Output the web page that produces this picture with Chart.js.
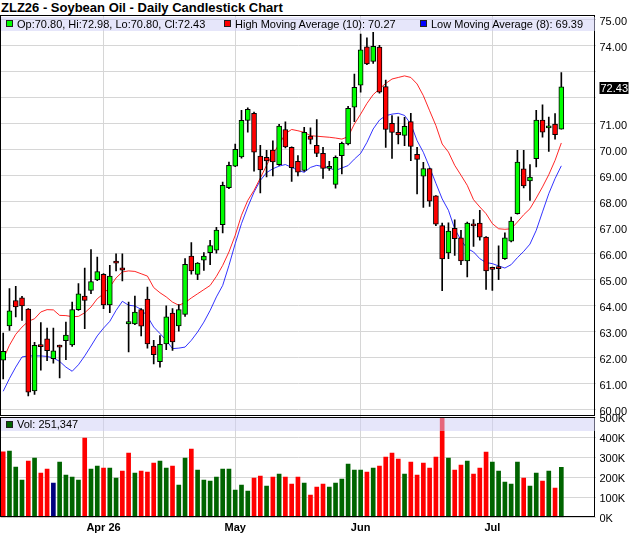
<!DOCTYPE html>
<html><head><meta charset="utf-8">
<script src="https://cdn.jsdelivr.net/npm/chart.js@4.4.1/dist/chart.umd.min.js"></script>
<style>
html,body{margin:0;padding:0;background:#fff;width:640px;height:536px;overflow:hidden;font-family:"Liberation Sans",Arial,sans-serif;}
#wrap{position:relative;width:640px;height:536px;}
#title{position:absolute;left:1px;top:0px;font-weight:bold;font-size:13px;line-height:15px;color:#000;white-space:nowrap;}
canvas{position:absolute;left:0;}
#c1{top:0;}
#c2{top:400px;}
.band{position:absolute;left:1px;width:594px;background:rgba(205,205,245,0.5);font-size:11px;line-height:14px;color:#000;white-space:nowrap;}
.sq{position:absolute;top:3px;width:5px;height:5px;border:1px solid #222;}
.lt{position:absolute;top:0;}
</style></head>
<body><div id="wrap">
<div id="title">ZLZ26 - Soybean Oil - Daily Candlestick Chart</div>
<canvas id="c1" width="640" height="417"></canvas>
<canvas id="c2" width="640" height="136"></canvas>
<div class="band" id="legMain" style="top:17px;height:14px;">
  <div class="sq" style="left:5px;background:#00ff00;"></div><span class="lt" id="tOHLC" style="left:16px;"></span>
  <div class="sq" style="left:223px;background:#ff0000;"></div><span class="lt" id="tHi" style="left:234px;"></span>
  <div class="sq" style="left:419px;background:#0000ff;"></div><span class="lt" id="tLo" style="left:430px;"></span>
</div>
<div class="band" id="legVol" style="top:418px;height:13px;line-height:13px;">
  <div class="sq" style="left:5px;top:3px;background:#006400;"></div><span class="lt" id="tVol" style="left:16px;"></span>
</div>
</div>
<script>
const dates = [
 "2026-03-10","2026-03-11","2026-03-12","2026-03-13","2026-03-16","2026-03-17","2026-03-18","2026-03-19","2026-03-20",
 "2026-03-23","2026-03-24","2026-03-25","2026-03-26","2026-03-27","2026-03-30","2026-03-31",
 "2026-04-01","2026-04-02","2026-04-06","2026-04-07","2026-04-08","2026-04-09","2026-04-10",
 "2026-04-13","2026-04-14","2026-04-15","2026-04-16","2026-04-17","2026-04-20","2026-04-21","2026-04-22","2026-04-23","2026-04-24",
 "2026-04-27","2026-04-28","2026-04-29","2026-04-30",
 "2026-05-01","2026-05-04","2026-05-05","2026-05-06","2026-05-07","2026-05-08","2026-05-11","2026-05-12","2026-05-13","2026-05-14","2026-05-15",
 "2026-05-18","2026-05-19","2026-05-20","2026-05-21","2026-05-22","2026-05-26","2026-05-27","2026-05-28","2026-05-29",
 "2026-06-01","2026-06-02","2026-06-03","2026-06-04","2026-06-05","2026-06-08","2026-06-09","2026-06-10","2026-06-11","2026-06-12",
 "2026-06-15","2026-06-16","2026-06-17","2026-06-18","2026-06-22","2026-06-23","2026-06-24","2026-06-25","2026-06-26","2026-06-29","2026-06-30",
 "2026-07-01","2026-07-02","2026-07-06","2026-07-07","2026-07-08","2026-07-09","2026-07-10","2026-07-13","2026-07-14","2026-07-15","2026-07-16","2026-07-17"
];
const opens = [61.92,63.23,64.21,64.31,63.88,60.73,62.50,62.74,61.97,62.43,62.67,62.50,63.86,64.38,64.60,65.00,65.22,64.04,65.66,65.47,
 63.31,63.31,63.86,64.27,62.46,61.86,62.54,63.73,63.23,63.68,65.92,65.21,65.76,66.05,66.15,67.13,68.55,69.38,69.73,71.14,
 71.41,69.77,69.72,70.00,69.44,70.79,70.10,69.56,69.21,70.54,70.18,69.87,69.29,68.68,69.78,70.23,71.65,72.49,73.97,73.41,
 73.96,72.44,71.03,70.68,70.56,71.09,69.83,68.99,69.29,68.24,67.09,66.04,66.99,66.62,65.73,67.15,67.19,66.65,65.47,65.50,
 65.82,66.49,67.55,69.28,68.81,69.67,71.15,70.85,71.00,70.80];
const highs = [62.96,64.67,64.76,64.37,63.90,62.60,63.36,63.15,63.15,62.50,63.38,64.15,64.86,65.46,66.17,65.88,65.25,65.56,66.01,66.01,
 64.15,64.38,63.90,64.73,62.68,62.86,64.01,63.90,64.05,65.82,66.44,65.67,66.05,66.53,67.03,68.77,69.54,70.23,71.53,71.62,
 71.46,70.18,69.99,70.35,70.99,71.08,70.12,69.79,70.87,70.85,71.17,70.10,69.56,69.78,70.30,71.68,72.92,74.46,74.31,74.53,
 74.03,72.69,71.32,71.28,71.26,71.41,70.10,69.53,69.30,68.25,67.19,67.20,67.31,66.91,67.23,67.32,67.68,66.67,65.50,66.31,
 66.81,67.42,69.99,69.99,69.44,71.53,71.74,71.27,71.40,72.98];
const lows = [61.20,63.06,63.58,63.45,60.54,60.60,61.53,61.90,61.80,61.23,61.94,62.45,63.83,63.13,64.47,64.97,63.90,63.74,65.35,64.96,
 62.23,63.28,62.85,62.38,61.77,61.65,62.32,62.29,63.03,63.60,65.22,65.01,65.37,65.59,66.03,66.81,68.51,69.36,69.69,70.69,
 69.19,68.35,68.96,69.00,69.41,70.08,68.79,69.00,69.18,70.23,69.74,68.91,69.21,68.53,69.08,70.20,71.09,72.22,73.28,73.33,
 72.19,70.10,69.68,70.23,70.17,69.59,68.31,67.79,67.83,67.09,64.59,65.82,65.95,65.59,65.12,66.29,66.53,64.64,64.60,65.01,
 65.79,66.46,67.53,68.54,68.06,69.35,70.49,69.95,70.42,70.80];
const closes = [62.26,63.81,63.96,64.00,60.69,62.49,62.44,62.28,62.28,62.42,62.88,63.86,64.47,64.21,64.94,65.32,64.04,65.15,65.65,65.38,
 63.40,63.77,63.22,62.54,62.13,62.53,63.58,62.62,63.86,65.60,65.35,65.65,65.92,66.32,66.92,68.64,69.41,70.03,71.14,71.56,
 69.92,69.23,69.58,69.54,70.92,70.12,69.32,69.15,70.68,70.41,69.87,69.29,69.37,69.72,70.26,71.60,72.41,73.85,73.31,73.99,
 72.22,70.79,70.68,70.58,70.91,70.14,69.64,69.29,68.03,67.15,65.81,66.88,66.59,65.73,67.19,67.08,66.65,65.35,65.41,65.44,
 66.62,67.27,69.54,68.62,68.96,71.15,70.69,70.92,70.59,72.43];
const priorClose = 62.60;
const hiMA = [61.95,62.49,62.91,63.19,63.41,63.51,63.77,63.86,63.85,63.64,63.63,63.59,63.60,63.74,63.96,64.28,64.47,64.73,65.08,65.31,
 65.35,65.33,65.24,65.15,64.71,64.51,64.35,64.15,64.03,64.13,64.31,64.47,64.63,64.79,65.14,65.56,66.08,66.72,67.49,68.06,
 68.45,68.92,69.41,69.86,70.21,70.63,70.79,70.74,70.68,70.55,70.53,70.51,70.49,70.46,70.42,70.51,71.00,71.38,71.79,72.13,
 72.35,72.56,72.73,72.79,72.85,72.79,72.54,72.09,71.51,70.94,70.23,69.92,69.41,69.03,68.64,68.09,67.81,67.55,67.17,66.97,
 66.95,66.97,67.23,67.51,67.74,68.15,68.58,69.05,69.60,70.27];
const loMA = [60.72,61.21,61.65,62.04,62.08,62.08,62.08,62.06,62.00,61.87,61.65,61.49,61.74,62.08,62.46,62.85,63.15,63.41,63.83,64.18,
 64.03,64.00,63.87,63.60,63.19,62.94,62.68,62.36,62.38,62.42,62.68,63.00,63.38,63.83,64.35,64.79,65.56,66.40,67.17,67.81,
 68.38,68.83,69.13,69.28,69.38,69.44,69.33,69.22,69.14,69.33,69.41,69.36,69.31,69.21,69.31,69.40,69.65,69.87,70.29,70.81,
 71.15,71.32,71.38,71.41,71.33,71.00,70.36,69.91,69.33,68.72,68.12,67.68,66.97,66.53,66.21,66.08,65.82,65.67,65.63,65.54,
 65.46,65.59,65.86,66.10,66.38,66.91,67.62,68.32,68.90,69.39];
const volumes = [328000,332000,252000,187000,282000,297000,222000,242000,172000,277000,212000,202000,187000,397000,242000,257000,247000,247000,197000,232000,
 322000,222000,232000,227000,272000,282000,247000,257000,162000,297000,342000,237000,187000,182000,202000,242000,242000,137000,162000,132000,
 197000,207000,157000,202000,217000,202000,167000,202000,172000,112000,152000,167000,152000,172000,192000,267000,237000,237000,227000,247000,
 257000,302000,322000,292000,217000,277000,212000,272000,247000,302000,540000,297000,237000,262000,282000,217000,247000,327000,277000,232000,
 177000,167000,277000,197000,157000,222000,182000,232000,147000,251347];
const priceTicks = [60,61,62,63,64,65,66,67,68,69,70,71,72,73,74,75];
const volTicks = [0,100000,200000,300000,400000,500000];
const monthTickLabels = ["Apr 26","May","Jun","Jul"];
const hiMALen = 10, loMALen = 8;

const monthTickIdx = [];
dates.forEach((d,i)=>{ if(i>0 && d.slice(5,7)!==dates[i-1].slice(5,7)) monthTickIdx.push(i); });

const N = dates.length, last = N-1;
const FONT = '"Liberation Sans", Arial, sans-serif';
Chart.defaults.font.family = FONT;
Chart.defaults.font.size = 11;
Chart.defaults.color = '#000';
const GRID = '#d6d6d6';
const UP = '#00ff00', DOWN = '#ff0000';

document.getElementById('tOHLC').textContent =
  'Op:'+opens[last].toFixed(2)+', Hi:'+highs[last].toFixed(2)+', Lo:'+lows[last].toFixed(2)+', Cl:'+closes[last].toFixed(2);
document.getElementById('tHi').textContent = 'High Moving Average ('+hiMALen+'): '+hiMA[last].toFixed(2);
document.getElementById('tLo').textContent = 'Low Moving Average ('+loMALen+'): '+loMA[last].toFixed(2);
document.getElementById('tVol').textContent = 'Vol: '+volumes[last].toLocaleString('en-US');

const frame = {
  id:'frame',
  afterDraw(chart){
    const a = chart.chartArea, ctx = chart.ctx;
    ctx.save();
    ctx.strokeStyle = '#000'; ctx.lineWidth = 1;
    ctx.strokeRect(Math.floor(a.left)+0.5, Math.floor(a.top)+0.5, Math.round(a.right-a.left)-1, Math.round(a.bottom-a.top)-1);
    ctx.restore();
  }
};
const priceBox = {
  id:'priceBox',
  afterDraw(chart){
    const y = chart.scales.y.getPixelForValue(closes[last]);
    const ctx = chart.ctx, a = chart.chartArea;
    ctx.save();
    ctx.fillStyle = '#000';
    ctx.fillRect(a.right+4, Math.round(y)-5, 29, 12);
    ctx.fillStyle = '#fff';
    ctx.font = '11px '+FONT;
    ctx.textBaseline = 'middle'; ctx.textAlign = 'left';
    ctx.fillText(closes[last].toFixed(2), a.right+5, Math.round(y)+1.5);
    ctx.restore();
  }
};
function zeroPad(ax){ ax.paddingTop = 0; ax.paddingBottom = 0; ax.paddingLeft = 0; ax.paddingRight = 0; }

const xCommon = {
  type:'linear', min:-0.43, max:94.45, offset:false,
  grid:{color:GRID, drawTicks:false, offset:false}, border:{display:false},
  afterBuildTicks(ax){ ax.ticks = monthTickIdx.map(v=>({value:v})); }
};

new Chart(document.getElementById('c1'), {
  type:'bar',
  data:{datasets:[
    {type:'line', data:hiMA.map((v,i)=>({x:i,y:v})), borderColor:'rgba(255,0,0,0.85)', borderWidth:1, pointRadius:0, tension:0, order:3},
    {type:'line', data:loMA.map((v,i)=>({x:i,y:v})), borderColor:'rgba(0,0,255,0.8)', borderWidth:1, pointRadius:0, tension:0, order:3},
    {data:lows.map((l,i)=>({x:i,y:[l,highs[i]]})), backgroundColor:'#000', barThickness:1, grouped:false, order:2},
    {data:opens.map((o,i)=>({x:i,y:[o,closes[i]]})),
     backgroundColor:opens.map((o,i)=>closes[i]>=o?UP:DOWN),
     borderColor:'#000', borderWidth:1, borderSkipped:false, barThickness:5, minBarLength:2, grouped:false, order:1}
  ]},
  options:{
    responsive:false, animation:false, events:[],
    layout:{padding:{top:15.5,left:0.5,right:0,bottom:0.5}},
    plugins:{legend:{display:false}, tooltip:{enabled:false}},
    scales:{
      x:Object.assign({}, xCommon, {ticks:{display:false}, afterFit(ax){ ax.height = 0; zeroPad(ax); }}),
      y:{position:'right', min:59.75, max:75.173,
         grid:{color:GRID, drawTicks:false}, border:{display:false},
         afterBuildTicks(ax){ ax.ticks = priceTicks.map(v=>({value:v})); },
         afterFit(ax){ ax.width = 44.5; zeroPad(ax); },
         ticks:{padding:4, labelOffset:1.5, font:{size:11}, callback:(v)=> Math.abs(v-closes[last])<0.6 ? '' : v.toFixed(2)}}
    }
  },
  plugins:[frame, priceBox]
});

const volColors = volumes.map((v,i)=>{
  const prev = i===0 ? priorClose : closes[i-1];
  return closes[i]>prev ? '#006400' : (closes[i]<prev ? '#ff0000' : '#000080');
});

new Chart(document.getElementById('c2'), {
  type:'bar',
  data:{datasets:[
    {data:volumes.map((v,i)=>({x:i,y:v})), backgroundColor:volColors, barThickness:4, grouped:false}
  ]},
  options:{
    responsive:false, animation:false, events:[],
    layout:{padding:{top:17.5,left:0.5,right:0,bottom:0}},
    plugins:{legend:{display:false}, tooltip:{enabled:false}},
    scales:{
      x:Object.assign({}, xCommon, {
        ticks:{display:true, padding:4, maxRotation:0, autoSkip:false, font:{size:11, weight:'bold'},
               callback:(v)=>{ const k = monthTickIdx.indexOf(v); return k>=0 ? monthTickLabels[k] : ''; }},
        afterFit(ax){ ax.height = 18.5; zeroPad(ax); }}),
      y:{position:'right', min:0, max:500000,
         grid:{color:GRID, drawTicks:false}, border:{display:false},
         afterBuildTicks(ax){ ax.ticks = volTicks.map(v=>({value:v})); },
         afterFit(ax){ ax.width = 44.5; zeroPad(ax); },
         ticks:{padding:4, labelOffset:1, font:{size:11}, callback:(v)=> (v/1000)+'K'}}
    }
  },
  plugins:[frame]
});
</script>
</body></html>
